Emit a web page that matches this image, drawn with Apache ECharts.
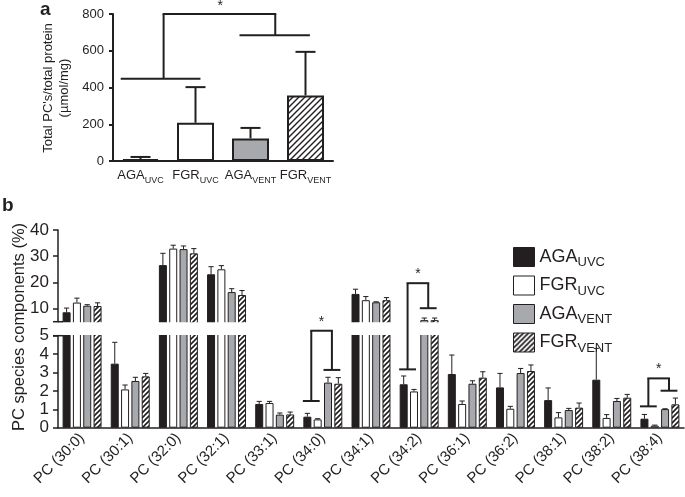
<!DOCTYPE html>
<html><head><meta charset="utf-8">
<script src="https://cdn.jsdelivr.net/npm/echarts@6/dist/echarts.min.js"></script>
<style>html,body{margin:0;padding:0;background:#fff}#main{width:685px;height:497px}</style>
</head><body><div id="main"></div>
<script>
// ---------- Panel a data ----------
const aGroups = ['AGA', 'FGR', 'AGA', 'FGR'];
const aSubs = ['UVC', 'UVC', 'VENT', 'VENT'];
const aMeans = [10, 208, 123, 357];
const aUpper = [22, 402, 180, 594];

// ---------- Panel b data ----------
const bCategories = ['PC (30:0)', 'PC (30:1)', 'PC (32:0)', 'PC (32:1)', 'PC (33:1)', 'PC (34:0)', 'PC (34:1)', 'PC (34:2)', 'PC (36:1)', 'PC (36:2)', 'PC (38:1)', 'PC (38:2)', 'PC (38:4)'];
const seriesNames = ['AGA_UVC', 'FGR_UVC', 'AGA_VENT', 'FGR_VENT'];
const agaUvc    = [8.6, 3.48, 26.6, 23.1, 1.29, 0.60, 15.6, 2.36, 2.92, 2.19, 1.50, 2.61, 0.49];
const agaUvcSd  = [1.6, 1.16, 4.5, 2.9, 0.14, 0.18, 1.8, 0.45, 1.03, 0.76, 0.66, 1.70, 0.23];
const fgrUvc    = [12.3, 2.08, 32.9, 25.0, 1.34, 0.45, 13.2, 1.97, 1.29, 1.03, 0.56, 0.53, 0.11];
const fgrUvcSd  = [1.7, 0.24, 1.3, 1.4, 0.09, 0.04, 1.4, 0.11, 0.16, 0.13, 0.26, 0.18, 0.03];
const agaVent   = [11.1, 2.54, 32.7, 16.3, 0.71, 2.45, 12.4, 5.6, 2.39, 2.97, 0.96, 1.45, 1.01];
const agaVentSd = [0.4, 0.2, 1.2, 1.3, 0.09, 0.29, 0.2, 0.8, 0.16, 0.25, 0.09, 0.14, 0.02];
const fgrVent   = [11.0, 2.79, 31.1, 15.2, 0.72, 2.39, 13.2, 5.6, 2.72, 3.08, 1.09, 1.63, 1.27];
const fgrVentSd = [1.2, 0.16, 1.8, 1.7, 0.13, 0.33, 1.0, 0.8, 0.32, 0.33, 0.25, 0.18, 0.34];
const bUpperTicks = [10, 20, 30, 40];
const bLowerTicks = [0, 1, 2, 3, 4, 5];
const breakValue = 5;

// significance brackets (levels in data units)
const aBracketLeftLevel = 447, aBracketRightLevel = 685, aBracketTopLevel = 800;
const bBracketCats   = [5, 7, 12];
const bBracketLeft   = [1.45, 3.17, 1.16];
const bBracketRight  = [3.14, 10.15, 2.01];
const bBracketTop    = [5.27, 19.7, 2.68];

// ---------- styling ----------
const INK = '#231f20', GREY = '#a7a9ac';
const FONT = 'Liberation Sans, Arial, Helvetica, sans-serif';
const B_BAR_W = 8, B_GAP = 0.29, B_STEP = B_BAR_W * (1 + B_GAP);
const UP_H = 91.7, LO_H = 92, UP_TOP = 230, LO_TOP = 335.7, OVER = 3;

// diagonal hatch as an SVG data-URL image pattern
function hatch(size, lw) {
  const s = size, h = s / 2;
  const svg = "<svg xmlns='http://www.w3.org/2000/svg' width='" + s + "' height='" + s + "'>" +
    "<rect width='" + s + "' height='" + s + "' fill='#ffffff'/>" +
    "<path d='M-1," + (s + 1) + " L" + (s + 1) + ",-1 M" + (-h - 1) + "," + (h + 1) + " L" + (h + 1) + "," + (-h - 1) +
    " M" + (h - 1) + "," + (s + h + 1) + " L" + (s + h + 1) + "," + (h - 1) + "' stroke='" + INK + "' stroke-width='" + lw + "'/></svg>";
  return { image: 'data:image/svg+xml;charset=utf-8,' + encodeURIComponent(svg), repeat: 'repeat' };
}
const hatchA = hatch(6, 1.4);
const hatchB = hatch(5, 1.6);
const bFills = [INK, '#ffffff', GREY, hatchB];
const aFills = [INK, '#ffffff', GREY, hatchA];
const bMeans = [agaUvc, fgrUvc, agaVent, fgrVent];
const bSds = [agaUvcSd, fgrUvcSd, agaVentSd, fgrVentSd];
const legendParts = { AGA_UVC: ['AGA', 'UVC'], FGR_UVC: ['FGR', 'UVC'], AGA_VENT: ['AGA', 'VENT'], FGR_VENT: ['FGR', 'VENT'] };

const chart = echarts.init(document.getElementById('main'), null, { renderer: 'canvas' });

function errRenderA(params, api) {
  const cat = api.value(0), mean = api.value(1), top = api.value(2);
  const p0 = api.coord([cat, mean]), p1 = api.coord([cat, top]);
  const s = { stroke: INK, lineWidth: 2 };
  return { type: 'group', children: [
    { type: 'line', shape: { x1: p0[0], y1: p0[1], x2: p0[0], y2: p1[1] }, style: s },
    { type: 'line', shape: { x1: p0[0] - 10, y1: p1[1], x2: p0[0] + 10, y2: p1[1] }, style: s }
  ] };
}
function errRenderB(lower) {
  return function (params, api) {
    const cat = api.value(0), si = api.value(1), mean = api.value(2), top = api.value(3);
    let v0, v1, cap = true;
    if (lower) { if (mean >= breakValue) return; v0 = mean; v1 = Math.min(top, breakValue); cap = top <= breakValue; }
    else { if (top <= breakValue) return; v0 = Math.max(mean, breakValue); v1 = top; }
    const p0 = api.coord([cat, v0]), p1 = api.coord([cat, v1]);
    const x = p0[0] + (si - 1.5) * B_STEP;
    const s = { stroke: INK, lineWidth: 1 };
    const ch = [{ type: 'line', shape: { x1: x, y1: p0[1], x2: x, y2: p1[1] }, style: s }];
    if (cap) ch.push({ type: 'line', shape: { x1: x - 2.6, y1: p1[1], x2: x + 2.6, y2: p1[1] }, style: s });
    return { type: 'group', children: ch };
  };
}

const bErrData = [];
bMeans.forEach((arr, si) => arr.forEach((m, ci) => bErrData.push([ci, si, m, m + bSds[si][ci]])));

const series = [];
series.push({
  type: 'bar', xAxisIndex: 0, yAxisIndex: 0, barWidth: 37,
  data: aMeans.map((v, i) => ({ value: v, itemStyle: { color: aFills[i], borderColor: INK, borderWidth: 2 } })),
  z: 2
});
series.push({ type: 'custom', xAxisIndex: 0, yAxisIndex: 0, renderItem: errRenderA,
  data: aMeans.map((v, i) => [i, v, aUpper[i]]), encode: { x: 0, y: 2 }, z: 3 });
[1, 2].forEach(gi => {
  seriesNames.forEach((nm, si) => {
    series.push({
      type: 'bar', name: nm, xAxisIndex: gi, yAxisIndex: gi, barWidth: B_BAR_W, barGap: (B_GAP * 100) + '%',
      data: bMeans[si], clip: true,
      itemStyle: { color: bFills[si], borderColor: INK, borderWidth: 1 }, z: 2
    });
  });
  series.push({ type: 'custom', xAxisIndex: gi, yAxisIndex: gi, renderItem: errRenderB(gi === 2),
    data: bErrData, encode: { x: 0, y: 3 }, z: 3, clip: false });
});

const upPerUnit = UP_H / (40 - breakValue), loPerUnit = LO_H / breakValue;
const upMin = breakValue - OVER / upPerUnit, loMax = breakValue + OVER / loPerUnit;

const option = {
  animation: false,
  backgroundColor: '#fff',
  textStyle: { fontFamily: FONT, color: INK },
  grid: [
    { left: 113, top: 14, width: 220, height: 147 },
    { left: 58, top: UP_TOP, width: 626, height: UP_H + OVER },
    { left: 58, top: LO_TOP - OVER, width: 626, height: LO_H + OVER }
  ],
  xAxis: [
    { type: 'category', gridIndex: 0, data: aGroups.map((g, i) => g + '|' + aSubs[i]),
      axisLine: { lineStyle: { color: INK, width: 2 } },
      axisTick: { alignWithLabel: true, length: 4, lineStyle: { color: INK, width: 2 } },
      axisLabel: { color: INK, fontFamily: FONT, margin: 8, interval: 0,
        formatter: v => { const p = v.split('|'); return '{m|' + p[0] + '}{s|' + p[1] + '}'; },
        rich: { m: { fontSize: 13, lineHeight: 14, verticalAlign: 'top', color: INK, fontFamily: FONT },
                s: { fontSize: 9, lineHeight: 9, verticalAlign: 'top', padding: [7, 0, 0, 0], color: INK, fontFamily: FONT } } } },
    { type: 'category', gridIndex: 1, data: bCategories,
      axisLine: { show: false }, axisTick: { show: false }, axisLabel: { show: false } },
    { type: 'category', gridIndex: 2, data: bCategories,
      axisLine: { lineStyle: { color: INK, width: 1.5 } },
      axisTick: { alignWithLabel: true, length: 5, lineStyle: { color: INK, width: 1.5 } },
      axisLabel: { rotate: 45, interval: 0, margin: 8, fontSize: 15, color: INK, fontFamily: FONT } }
  ],
  yAxis: [
    { type: 'value', gridIndex: 0, min: 0, max: 800, interval: 200, splitLine: { show: false },
      axisLine: { show: true, lineStyle: { color: INK, width: 2 } },
      axisTick: { show: true, length: 4, lineStyle: { color: INK, width: 2 } },
      axisLabel: { color: INK, fontFamily: FONT, fontSize: 13, margin: 9 } },
    { type: 'value', gridIndex: 1, min: upMin, max: 40, splitLine: { show: false },
      axisLine: { show: true, lineStyle: { color: INK, width: 1.5 } },
      axisTick: { show: true, length: 5, customValues: bUpperTicks, lineStyle: { color: INK, width: 1.5 } },
      axisLabel: { color: INK, fontFamily: FONT, fontSize: 17, margin: 9, customValues: bUpperTicks } },
    { type: 'value', gridIndex: 2, min: 0, max: loMax, splitLine: { show: false },
      axisLine: { show: true, lineStyle: { color: INK, width: 1.5 } },
      axisTick: { show: true, length: 5, customValues: bLowerTicks, lineStyle: { color: INK, width: 1.5 } },
      axisLabel: { color: INK, fontFamily: FONT, fontSize: 17, margin: 9, customValues: bLowerTicks } }
  ],
  legend: {
    data: seriesNames, orient: 'vertical', left: 508, top: 242, itemWidth: 21, itemHeight: 19, itemGap: 6.5,
    icon: 'rect', selectedMode: false, z: 6,
    itemStyle: { borderColor: INK, borderWidth: 1 },
    formatter: n => '{m|' + legendParts[n][0] + '}{s|' + legendParts[n][1] + '}',
    textStyle: { color: INK, fontFamily: FONT,
      rich: { m: { fontSize: 18, lineHeight: 18, verticalAlign: 'top', color: INK, fontFamily: FONT },
              s: { fontSize: 13, lineHeight: 13, verticalAlign: 'top', padding: [8, 0, 0, 0], color: INK, fontFamily: FONT } } }
  },
  series: series
};
chart.setOption(option);

// ---------- annotations ----------
const G = [];
function line(x1, y1, x2, y2, w) { G.push({ type: 'line', shape: { x1, y1, x2, y2 }, style: { stroke: INK, lineWidth: w }, z: 10 }); }
function text(t, x, y, o) { G.push(Object.assign({ type: 'text', x, y, z: 10, style: Object.assign({ text: t, fill: INK, fontFamily: FONT }, o.style || {}) }, o.el || {})); }

// white mask over the axis-break gap (under the legend)
const yBrkUp = chart.convertToPixel({ yAxisIndex: 1 }, breakValue);
const yBrkLo = chart.convertToPixel({ yAxisIndex: 2 }, breakValue);
G.push({ type: 'rect', shape: { x: 56, y: yBrkUp + 0.6, width: 629, height: yBrkLo - yBrkUp - 1.2 }, style: { fill: '#fff' }, z: 3.5 });

// panel a brackets
const ax0 = chart.convertToPixel({ xAxisIndex: 0 }, 0), ax1 = chart.convertToPixel({ xAxisIndex: 0 }, 1);
const aBand = ax1 - ax0;
const ay = v => chart.convertToPixel({ yAxisIndex: 0 }, v);
const axu = u => ax0 + u * aBand;
line(axu(-0.36), ay(aBracketLeftLevel), axu(1.09), ay(aBracketLeftLevel), 2);
line(axu(1.8), ay(aBracketRightLevel), axu(3.08), ay(aBracketRightLevel), 2);
line(axu(0.42), ay(aBracketLeftLevel), axu(0.42), ay(aBracketTopLevel), 2);
line(axu(2.45), ay(aBracketRightLevel), axu(2.45), ay(aBracketTopLevel), 2);
line(axu(0.42) - 1, ay(aBracketTopLevel), axu(2.45) + 1, ay(aBracketTopLevel), 2);
text('*', axu(1.45), ay(aBracketTopLevel) - 1, { style: { fontSize: 14, align: 'center', verticalAlign: 'bottom' } });

// panel b brackets
const byPix = v => v > breakValue + 0.5 ? chart.convertToPixel({ yAxisIndex: 1 }, v) : chart.convertToPixel({ yAxisIndex: 2 }, v);
bBracketCats.forEach((c, k) => {
  const cx = chart.convertToPixel({ xAxisIndex: 2 }, c);
  const b0 = cx - 1.5 * B_STEP, b1 = cx - 0.5 * B_STEP, b2 = cx + 0.5 * B_STEP, b3 = cx + 1.5 * B_STEP;
  const lx1 = b0 - 4.5, lx2 = b1 + 2, rx1 = b2 - 4.5, rx2 = b3 + 2;
  const lv = (lx1 + lx2) / 2, rv = (rx1 + rx2) / 2;
  const yl = byPix(bBracketLeft[k]), yr = byPix(bBracketRight[k]), yt = byPix(bBracketTop[k]);
  line(lx1, yl, lx2, yl, 2);
  line(rx1, yr, rx2, yr, 2);
  line(lv, yl, lv, yt, 2);
  line(rv, yr, rv, yt, 2);
  line(lv - 1, yt, rv + 1, yt, 2);
  text('*', (lv + rv) / 2, yt - 2, { style: { fontSize: 14, align: 'center', verticalAlign: 'bottom' } });
});

// axis break stubs
line(53, yBrkUp, 63, yBrkUp, 1.5);
line(53, yBrkLo, 63, yBrkLo, 1.5);

// titles and panel letters
text('a', 40, 0, { style: { fontSize: 19, fontWeight: 'bold' } });
text('b', 2, 196, { style: { fontSize: 19, fontWeight: 'bold' } });
text("Total PC's/total protein", 48, 88, { style: { fontSize: 13, align: 'center', verticalAlign: 'middle' }, el: { rotation: Math.PI / 2 } });
text('(µmol/mg)', 64, 88, { style: { fontSize: 13, align: 'center', verticalAlign: 'middle' }, el: { rotation: Math.PI / 2 } });
text('PC species components (%)', 19, 327, { style: { fontSize: 16.5, align: 'center', verticalAlign: 'middle' }, el: { rotation: Math.PI / 2 } });

chart.setOption({ graphic: G });
</script></body></html>
